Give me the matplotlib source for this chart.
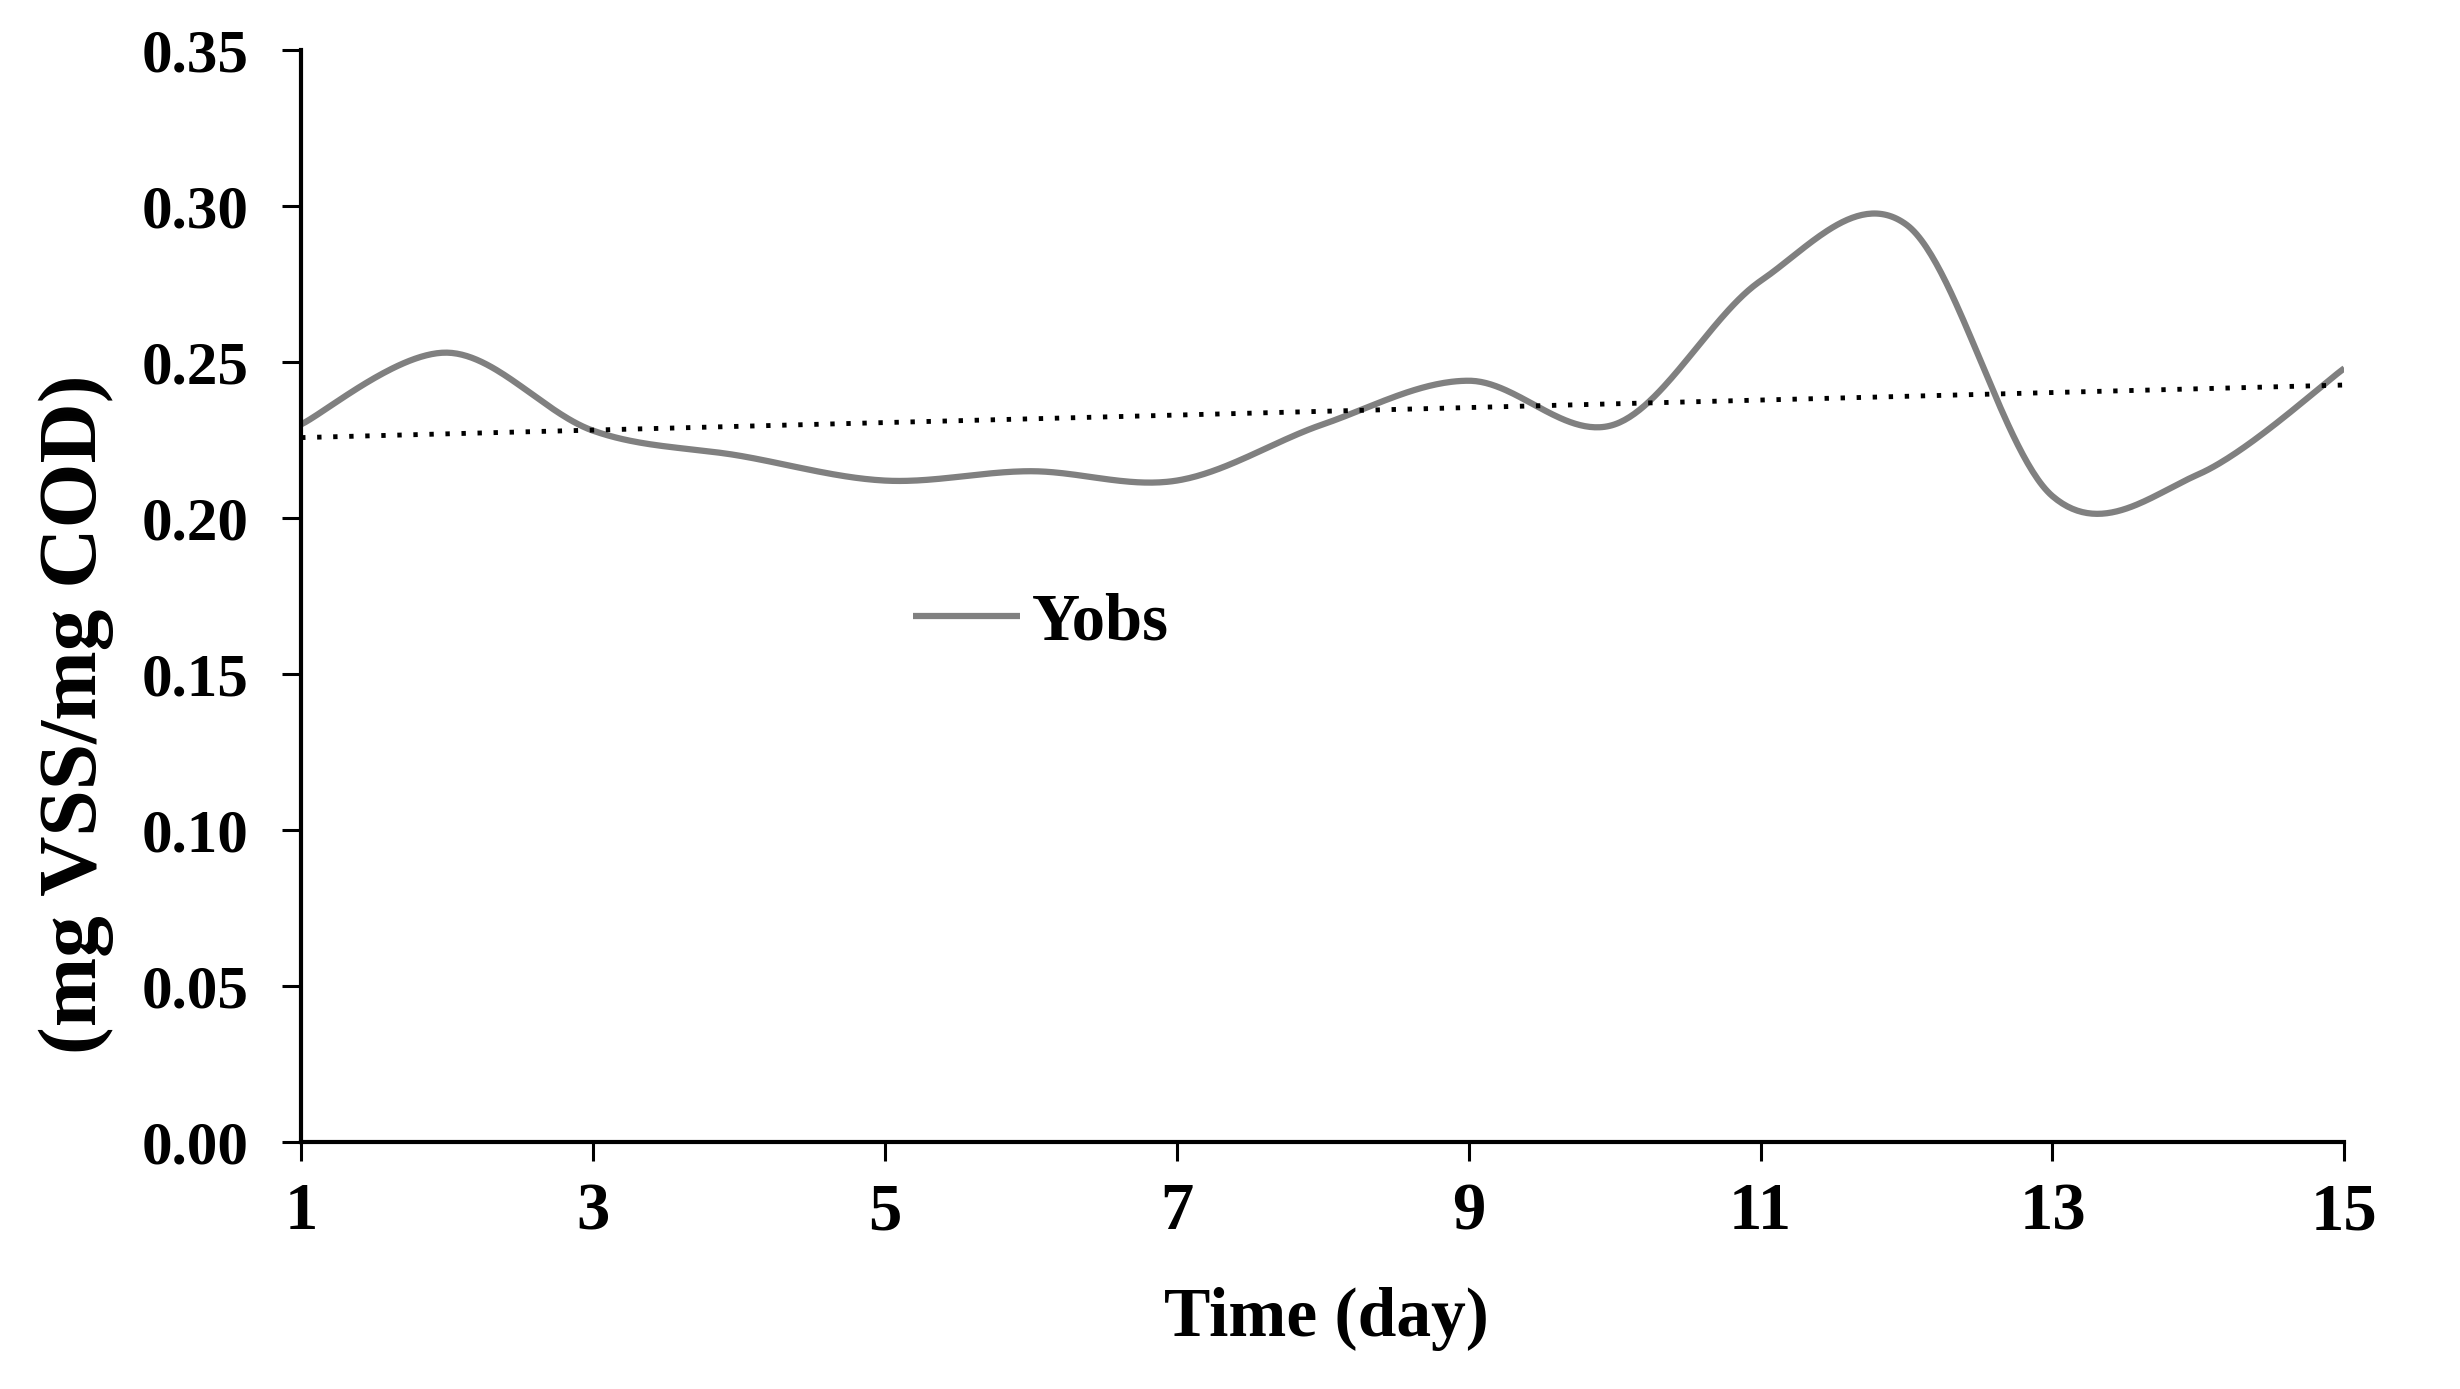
import numpy as np
import matplotlib
matplotlib.use("Agg")
from matplotlib import pyplot as plt

# data
days = [1, 2, 3, 4, 5, 6, 7, 8, 9, 10, 11, 12, 13, 14, 15]
yobs = [0.230, 0.253, 0.228, 0.220, 0.212, 0.215, 0.212, 0.230, 0.244,
        0.230, 0.276, 0.294, 0.207, 0.214, 0.248]
x_ticks = [1, 3, 5, 7, 9, 11, 13, 15]
y_ticks = [0.00, 0.05, 0.10, 0.15, 0.20, 0.25, 0.30, 0.35]


def excel_smooth(x, y, n=60):
    # bezier smoothing like the "smoothed line" option of spreadsheet charts
    x = np.asarray(x, float)
    y = np.asarray(y, float)
    xs, ys = [], []
    t = np.linspace(0, 1, n)
    for i in range(len(x) - 1):
        ip = max(i - 1, 0)
        inx = min(i + 2, len(x) - 1)
        p0 = np.array([x[i], y[i]])
        p3 = np.array([x[i + 1], y[i + 1]])
        p1 = p0 + (p3 - np.array([x[ip], y[ip]])) / 6
        p2 = p3 - (np.array([x[inx], y[inx]]) - p0) / 6
        b = (np.outer((1 - t) ** 3, p0) + np.outer(3 * (1 - t) ** 2 * t, p1)
             + np.outer(3 * (1 - t) * t ** 2, p2) + np.outer(t ** 3, p3))
        xs.extend(b[:, 0])
        ys.extend(b[:, 1])
    return np.array(xs), np.array(ys)


plt.rcParams['font.family'] = ['Liberation Serif', 'DejaVu Serif']
plt.rcParams['font.weight'] = 'bold'

fig = plt.figure(figsize=(24.6, 13.89), dpi=100)
ax = fig.add_axes([0.1224, 0.1778, 0.8306, 0.7862])

sx, sy = excel_smooth(days, yobs)
ax.plot(sx, sy, color='#808080', lw=4.5, solid_capstyle='butt', label='Yobs')

# linear trend line
coef = np.polyfit(days, yobs, 1)
tx = np.array([days[0], days[-1]])
ax.plot(tx, np.polyval(coef, tx), color='black', lw=3.5,
        linestyle=(0, (0.9, 2.4)), dash_capstyle='butt')

ax.set_xlim(1, 15)
ax.set_ylim(0, 0.35)
ax.set_xticks(x_ticks)
ax.set_yticks(y_ticks)
ax.set_yticklabels([f"{v:.2f}" for v in y_ticks])

for s in ['top', 'right']:
    ax.spines[s].set_visible(False)
for s in ['left', 'bottom']:
    ax.spines[s].set_linewidth(3)
    ax.spines[s].set_color('black')

ax.tick_params(axis='y', direction='out', length=14, width=2.2, pad=24,
               labelsize=44)
ax.tick_params(axis='x', direction='out', length=14, width=2.2, pad=15,
               labelsize=48)
for lab in ax.get_xticklabels() + ax.get_yticklabels():
    lab.set_fontweight('bold')

ax.set_xlabel('Time (day)', fontsize=50, fontweight='bold')
ax.set_ylabel('(mg VSS/mg COD)', fontsize=60, fontweight='bold',
              ha='center', va='center')
ax.xaxis.set_label_coords(0.502, -0.133)
ax.yaxis.set_label_coords(-0.11, 0.392)

ax.legend(loc='center left', bbox_to_anchor=(0.2996, 0.475), frameon=False,
          prop={'size': 48, 'weight': 'bold'}, handlelength=1.6,
          handletextpad=0.18, borderpad=0, borderaxespad=0)

fig.savefig('out.png', dpi=100)
